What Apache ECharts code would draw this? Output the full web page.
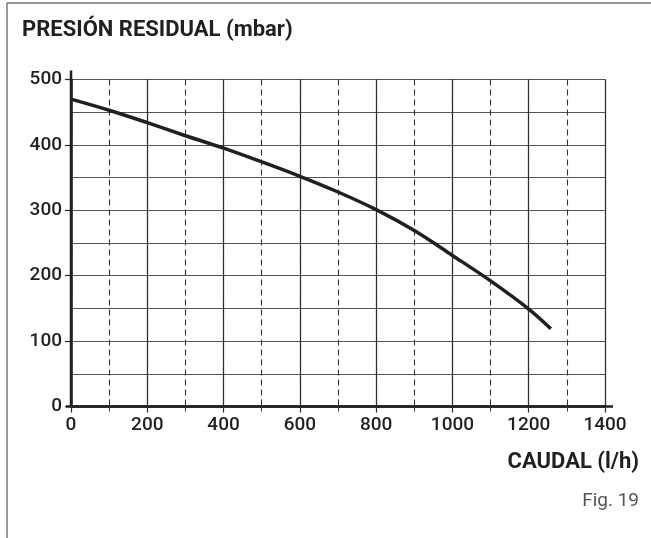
<!DOCTYPE html>
<html><head><meta charset="utf-8">
<script src="https://cdn.jsdelivr.net/npm/echarts@6/dist/echarts.min.js"></script>
<style>html,body{margin:0;padding:0;background:#fff}#c{width:651px;height:538px}</style>
</head><body><div id="c"></div>
<script>
const flow = [0, 100, 200, 300, 400, 500, 600, 700, 800, 900, 1000, 1100, 1200, 1258];
const pressure = [470, 453, 434, 414, 395, 374, 352, 328, 301, 269, 231, 192, 149, 119];
const xTicks = [0, 200, 400, 600, 800, 1000, 1200, 1400];
const yTicks = [0, 100, 200, 300, 400, 500];
const titleText = 'PRESIÓN RESIDUAL (mbar)';
const xName = 'CAUDAL (l/h)';
const figText = 'Fig. 19';

const FONT = 'Roboto';
const chart = echarts.init(document.getElementById('c'), null, {renderer: 'canvas'});
const grid = {left: 71, top: 79.5, right: 46, bottom: 131.5};
const option = {
  animation: false,
  title: {text: titleText, left: 17, top: 14, textStyle: {fontFamily: FONT, fontSize: 22, fontWeight: 'bold', color: '#231f20'}},
  grid: grid,
  xAxis: [
    {type: 'value', min: 0, max: 1400, interval: 200,
     axisLine: {show: true, onZero: false, lineStyle: {color: '#231f20', width: 2.5}},
     axisTick: {show: true, length: 6, lineStyle: {color: '#231f20', width: 1.2}},
     axisLabel: {margin: 9, fontFamily: FONT, fontSize: 19, fontWeight: 500, color: '#231f20', formatter: v => String(v)},
     splitLine: {show: true, lineStyle: {color: '#222', width: 1.2}}},
    {type: 'value', min: 0, max: 1400, interval: 100, position: 'bottom',
     axisLine: {show: false},
     axisTick: {show: true, length: 6, lineStyle: {color: '#333', width: 1, type: [5, 4]}},
     axisLabel: {show: false},
     splitLine: {show: true, lineStyle: {color: '#333', width: 1.1, type: [6, 4]}}}
  ],
  yAxis: [
    {type: 'value', min: 0, max: 500, interval: 100,
     axisLine: {show: true, onZero: false, lineStyle: {color: '#231f20', width: 2.5}},
     axisTick: {show: true, length: 6, lineStyle: {color: '#231f20', width: 1.2}},
     axisLabel: {margin: 9, fontFamily: FONT, fontSize: 19, fontWeight: 500, color: '#231f20', formatter: v => String(v)},
     splitLine: {show: true, lineStyle: {color: '#222', width: 1.2}}},
    {type: 'value', min: 0, max: 500, interval: 50, position: 'left',
     axisLine: {show: false}, axisTick: {show: false}, axisLabel: {show: false},
     splitLine: {show: true, lineStyle: {color: '#555', width: 1.2}}}
  ],
  series: [{
    type: 'line', xAxisIndex: 0, yAxisIndex: 0, smooth: 0.35, symbol: 'none',
    lineStyle: {color: '#231f20', width: 3.5, cap: 'butt'},
    data: flow.map((f, i) => [f, pressure[i]]), z: 5
  }],
  graphic: [
    {type: 'line', shape: {x1: 7, y1: 3, x2: 651, y2: 3}, style: {stroke: '#777', lineWidth: 1.5}},
    {type: 'line', shape: {x1: 7, y1: 3, x2: 7, y2: 538}, style: {stroke: '#777', lineWidth: 1.5}},
    {type: 'text', right: 12, top: 451, style: {text: xName, font: 'bold 22px ' + FONT, fill: '#231f20'}},
    {type: 'text', right: 12, top: 492, style: {text: figText, font: '19px ' + FONT, fill: '#555'}}
  ]
};
chart.setOption(option);
const x0 = chart.convertToPixel({xAxisIndex: 0}, 0);
const x1 = chart.convertToPixel({xAxisIndex: 0}, 1400);
const y0 = chart.convertToPixel({yAxisIndex: 0}, 0);
const y1 = chart.convertToPixel({yAxisIndex: 0}, 500);
chart.setOption({graphic: option.graphic.concat([
  {type: 'line', shape: {x1: x0, y1: y1 - 9, x2: x0, y2: y0}, style: {stroke: '#231f20', lineWidth: 2.5}},
  {type: 'line', shape: {x1: x0 - 5, y1: y0, x2: x1 + 8, y2: y0}, style: {stroke: '#231f20', lineWidth: 2.5}}
])});
</script></body></html>
